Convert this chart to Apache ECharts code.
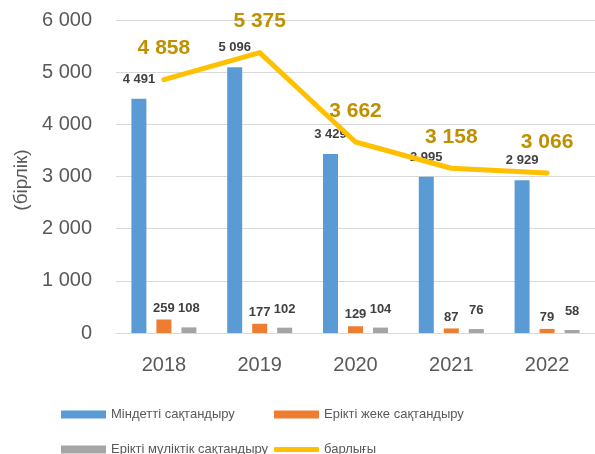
<!DOCTYPE html>
<html>
<head>
<meta charset="utf-8">
<script src="https://cdn.jsdelivr.net/npm/echarts@6/dist/echarts.min.js"></script>
<style>
html,body{margin:0;padding:0;background:#fff;}
#c{width:595px;height:454px;}
</style>
</head>
<body>
<div id="c"></div>
<script>
const years = ['2018', '2019', '2020', '2021', '2022'];
const mandatory = [4491, 5096, 3429, 2995, 2929];
const voluntaryPersonal = [259, 177, 129, 87, 79];
const voluntaryProperty = [108, 102, 104, 76, 58];
const total = [4858, 5375, 3662, 3158, 3066];
const seriesNames = ['Міндетті сақтандыру', 'Ерікті жеке сақтандыру', 'Ерікті мүліктік сақтандыру', 'барлығы'];
const yAxisName = '(бірлік)';

const fmt = v => {
  const n = typeof v === 'object' ? v.value : v;
  return String(n).replace(/\B(?=(\d{3})+(?!\d))/g, ' ');
};
const FONT = 'Liberation Sans';
const barLabel = (dist) => ({
  show: true, position: 'top', distance: dist,
  color: '#404040', fontWeight: 'bold', fontSize: 13, fontFamily: FONT,
  formatter: p => fmt(p.value)
});
const legendText = {color: '#595959', fontSize: 13, fontFamily: FONT};
const mkLegend = (name, left, top, h, icon) => ({
  data: [name], left: left, top: top, padding: 0,
  itemWidth: 45, itemHeight: h, icon: icon, textStyle: legendText
});

const chart = echarts.init(document.getElementById('c'), null, {renderer: 'canvas'});
chart.setOption({
  animation: false,
  textStyle: {fontFamily: FONT},
  grid: {left: 116, right: -7, top: 20, bottom: 121, containLabel: false},
  legend: [
    mkLegend(seriesNames[0], 61, 408, 8, 'rect'),
    mkLegend(seriesNames[1], 274, 408, 8, 'rect'),
    mkLegend(seriesNames[2], 61, 443, 8, 'rect'),
    mkLegend(seriesNames[3], 274, 443, 5, 'roundRect')
  ],
  xAxis: {
    type: 'category', data: years,
    axisLine: {lineStyle: {color: '#D9D9D9', width: 1}},
    axisTick: {show: false},
    axisLabel: {color: '#595959', fontSize: 20, margin: 22, fontFamily: FONT}
  },
  yAxis: {
    type: 'value', min: 0, max: 6000, interval: 1000,
    name: yAxisName, nameLocation: 'middle', nameRotate: 90, nameGap: 85,
    nameTextStyle: {color: '#595959', fontSize: 19, fontFamily: FONT, padding: [0, 7, 0, 0]},
    axisLine: {show: false}, axisTick: {show: false},
    splitLine: {lineStyle: {color: '#D9D9D9', width: 1}},
    axisLabel: {color: '#595959', fontSize: 20, margin: 24, fontFamily: FONT, formatter: v => fmt(v)}
  },
  series: [
    {
      name: seriesNames[0], type: 'bar', data: mandatory, barWidth: 15, barGap: '66.7%',
      itemStyle: {color: '#5B9BD5'}, label: barLabel(13)
    },
    {
      name: seriesNames[1], type: 'bar', data: voluntaryPersonal, barWidth: 15, barGap: '66.7%',
      itemStyle: {color: '#ED7D31'}, label: barLabel(5)
    },
    {
      name: seriesNames[2], type: 'bar', data: voluntaryProperty, barWidth: 15, barGap: '66.7%',
      itemStyle: {color: '#A5A5A5'}, label: barLabel(12)
    },
    {
      name: seriesNames[3], type: 'line', data: total,
      symbol: 'circle', symbolSize: 1, showSymbol: true,
      itemStyle: {color: '#FFC000'},
      lineStyle: {color: '#FFC000', width: 5, cap: 'round', join: 'round'},
      label: {
        show: true, position: 'top', distance: 20,
        color: '#BF9000', fontWeight: 'bold', fontSize: 21, fontFamily: FONT,
        formatter: p => fmt(p.value)
      },
      z: 5
    }
  ]
});
</script>
</body>
</html>
